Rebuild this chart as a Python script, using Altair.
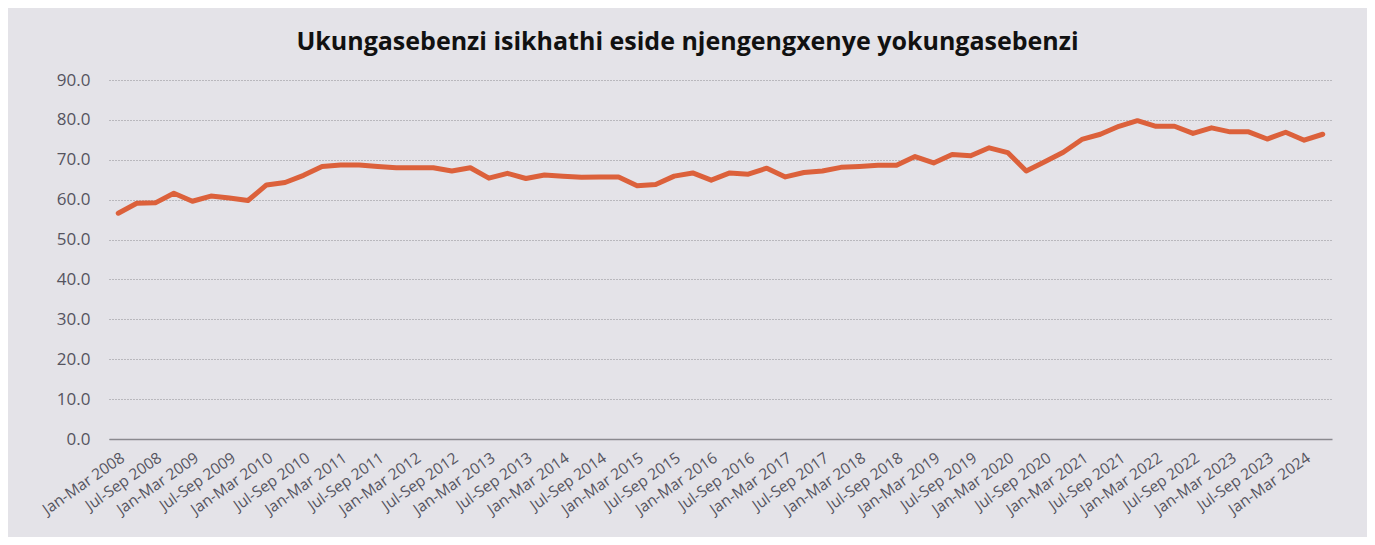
import altair as alt
import pandas as pd

years = list(range(2008, 2025))
quarter_names = ["Jan-Mar", "Apr-Jun", "Jul-Sep", "Oct-Dec"]
periods = []
for y in years:
    for q in quarter_names:
        periods.append(f"{q} {y}")
periods = periods[:66]  # Jan-Mar 2008 .. Apr-Jun 2024

values = [
    56.6, 59.1, 59.2, 61.6, 59.6, 60.9, 60.4, 59.8, 63.7, 64.3,
    66.1, 68.3, 68.7, 68.7, 68.3, 68.0, 68.0, 68.0, 67.2, 68.0,
    65.4, 66.6, 65.3, 66.2, 65.9, 65.6, 65.7, 65.7, 63.5, 63.8,
    65.9, 66.7, 64.9, 66.7, 66.4, 67.9, 65.7, 66.8, 67.2, 68.1,
    68.3, 68.6, 68.6, 70.8, 69.2, 71.3, 71.0, 73.0, 71.8, 67.2,
    69.5, 71.9, 75.1, 76.4, 78.4, 79.8, 78.4, 78.4, 76.6, 78.0,
    77.0, 77.0, 75.2, 76.9, 74.9, 76.4,
]

shown_labels = periods[::2]
y_ticks = [0, 10, 20, 30, 40, 50, 60, 70, 80, 90]

df = pd.DataFrame({"period": periods, "value": values})

FONT = "Open Sans"

chart = (
    alt.Chart(df)
    .mark_line(color="#dc613b", strokeWidth=5, strokeJoin="round", strokeCap="round")
    .encode(
        x=alt.X(
            "period:O",
            sort=periods,
            title=None,
            scale=alt.Scale(padding=0.5),
            axis=alt.Axis(
                values=shown_labels,
                labelAngle=-35,
                labelFontSize=15.5,
                labelColor="#55545f",
                labelFont=FONT,
                labelAlign="right",
                labelBaseline="top",
                labelPadding=11,
                ticks=False,
                domain=True,
                domainColor="#8a898f",
                domainWidth=1.5,
                grid=False,
                labelOverlap=False,
            ),
        ),
        y=alt.Y(
            "value:Q",
            title=None,
            scale=alt.Scale(domain=[0, 90], nice=False),
            axis=alt.Axis(
                values=y_ticks,
                format=".1f",
                labelFontSize=17,
                labelColor="#55545f",
                labelFont=FONT,
                labelPadding=19,
                ticks=False,
                domain=False,
                grid=True,
                gridColor="#8e8d93",
                gridDash=[1, 2],
                gridWidth=1,
            ),
        ),
    )
    .properties(
        width=1223,
        height=359,
        autosize=alt.AutoSizeParams(type="none"),
        padding={"left": 101, "top": 72, "right": 35, "bottom": 98},
        background="#e4e3e8",
        title=alt.TitleParams(
            "Ukungasebenzi isikhathi eside njengengxenye yokungasebenzi",
            font=FONT,
            fontSize=25,
            fontWeight="bold",
            color="#111111",
            anchor="middle",
            dx=-33,
            offset=16,
        ),
    )
    .configure_view(stroke=None)
)

chart.save("out.html", embed_options={"renderer": "svg", "actions": False})
